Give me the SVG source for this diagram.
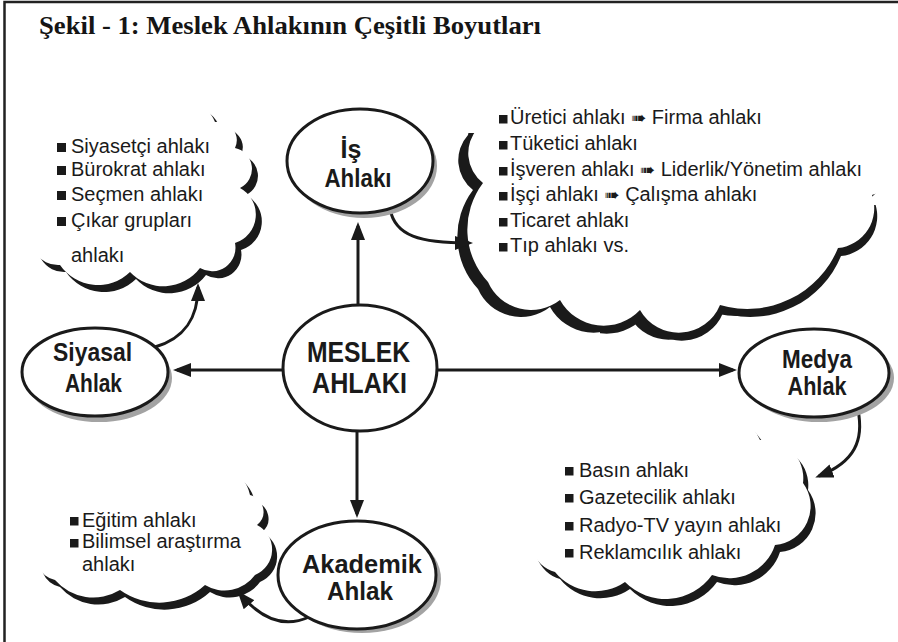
<svg xmlns="http://www.w3.org/2000/svg" width="898" height="642" viewBox="0 0 898 642">
<defs>
<style>
.title{font-family:"Liberation Serif","Times New Roman",serif;font-weight:bold;font-size:26px;fill:#151515}
.item{font-family:"Liberation Sans",Arial,sans-serif;font-size:20px;fill:#1a1a1a}
.arrg{font-family:"DejaVu Sans",sans-serif;font-size:18px}
.lbl{font-family:"Liberation Sans",Arial,sans-serif;font-weight:bold;font-size:25px;fill:#1a1a1a;text-anchor:middle}
.big{font-size:30px}
.node{fill:#fff;stroke:#1a1a1a;stroke-width:3}
.nsh{fill:#a3a3a3}
.edge{fill:none;stroke:#1a1a1a;stroke-width:3}
.sh{fill:#1a1a1a}
.wh{fill:#fff}
.bul{fill:#1a1a1a}
</style>
<marker id="ah" markerUnits="userSpaceOnUse" markerWidth="18" markerHeight="14" refX="14" refY="7" orient="auto" viewBox="0 0 18 14"><path d="M0,0 L18,7 L0,14 z" fill="#1a1a1a"/></marker>
<path id="cl1" d="M45,165 A33,33 0 0 1 85,122 A39,39 0 0 1 150,110 A39,39 0 0 1 215,122 A18.6,18.6 0 0 1 235,148 A21.3,21.3 0 0 1 240,188 A30,30 0 0 1 235,243 A23.5,23.5 0 0 1 200,268 A46,46 0 0 1 130,272 A46,46 0 0 1 60,265 A26.7,26.7 0 0 1 35,225 A38.5,38.5 0 0 1 45,165 Z"/>
<path id="cl2" d="M478,128 A45,45 0 0 1 540,95 A50,50 0 0 1 620,85 A50,50 0 0 1 700,82 A50,50 0 0 1 780,88 A45,45 0 0 1 850,105 A30,30 0 0 1 880,150 A25,25 0 0 1 872,195 A40,40 0 0 1 838,248 A98,98 0 0 1 720,305 A44.5,44.5 0 0 1 640,310 A50,50 0 0 1 560,300 A47,47 0 0 1 488,282 A77,77 0 0 1 483,183 A37.5,37.5 0 0 1 478,128 Z"/>
<path id="cl3" d="M540,478 A35,35 0 0 1 600,445 A45,45 0 0 1 680,435 A45,45 0 0 1 760,440 A38.5,38.5 0 0 1 803,483 A39,39 0 0 1 775,545 A48,48 0 0 1 712,575 A57,57 0 0 1 625,582 A52,52 0 0 1 555,572 A35,35 0 0 1 535,520 A30,30 0 0 1 540,478 Z"/>
<path id="cl4" d="M40,545 A32,32 0 0 1 60,495 A38,38 0 0 1 120,475 A42,42 0 0 1 190,472 A38,38 0 0 1 250,495 A17,17 0 0 1 257,525 A27.5,27.5 0 0 1 255,575 A37.5,37.5 0 0 1 205,585 A67.7,67.7 0 0 1 120,590 A51,51 0 0 1 55,580 A23,23 0 0 1 40,545 Z"/>
<clipPath id="clipR"><rect x="600" y="205" width="298" height="437"/></clipPath>
<clipPath id="clipB"><rect x="0" y="133" width="898" height="509"/></clipPath>
</defs>
<rect x="4.5" y="2" width="910" height="660" fill="none" stroke="#222" stroke-width="2.5"/>
<text class="title" x="39" y="34" textLength="502" lengthAdjust="spacingAndGlyphs">Şekil - 1: Meslek Ahlakının Çeşitli Boyutları</text>

<g id="cloud-siyasal">
<use href="#cl1" class="sh" transform="translate(6,7)"/>
<use href="#cl1" class="wh"/>
<rect class="bul" x="57" y="143" width="9" height="9"/><rect class="bul" x="57" y="166" width="9" height="9"/><rect class="bul" x="57" y="191" width="9" height="9"/><rect class="bul" x="57" y="217" width="9" height="9"/>
<text class="item" x="71" y="153">Siyasetçi ahlakı</text>
<text class="item" x="71" y="176">Bürokrat ahlakı</text>
<text class="item" x="71" y="201">Seçmen ahlakı</text>
<text class="item" x="71" y="227">Çıkar grupları</text>
<text class="item" x="71" y="262">ahlakı</text>
</g>

<g id="cloud-is">
<g clip-path="url(#clipB)"><use href="#cl2" class="sh" transform="translate(-10,7)"/></g>
<g clip-path="url(#clipR)"><use href="#cl2" class="sh" transform="translate(3,8)"/></g>
<use href="#cl2" class="wh"/>
<rect class="bul" x="499" y="115" width="8.5" height="8.5"/><rect class="bul" x="499" y="141" width="8.5" height="8.5"/><rect class="bul" x="499" y="167" width="8.5" height="8.5"/><rect class="bul" x="499" y="192" width="8.5" height="8.5"/><rect class="bul" x="499" y="218" width="8.5" height="8.5"/><rect class="bul" x="499" y="243" width="8.5" height="8.5"/>
<text class="item" x="510" y="124">Üretici ahlakı <tspan class="arrg">➠</tspan> Firma ahlakı</text>
<text class="item" x="510" y="150">Tüketici ahlakı</text>
<text class="item" x="510" y="176">İşveren ahlakı <tspan class="arrg">➠</tspan> Liderlik/Yönetim ahlakı</text>
<text class="item" x="510" y="201">İşçi ahlakı <tspan class="arrg">➠</tspan> Çalışma ahlakı</text>
<text class="item" x="510" y="227">Ticaret ahlakı</text>
<text class="item" x="510" y="252">Tıp ahlakı vs.</text>
</g>

<g id="cloud-medya">
<use href="#cl3" class="sh" transform="translate(5,7)"/>
<use href="#cl3" class="wh"/>
<rect class="bul" x="565" y="467" width="8.5" height="8.5"/><rect class="bul" x="565" y="494" width="8.5" height="8.5"/><rect class="bul" x="565" y="522" width="8.5" height="8.5"/><rect class="bul" x="565" y="549" width="8.5" height="8.5"/>
<text class="item" x="579" y="477">Basın ahlakı</text>
<text class="item" x="579" y="504">Gazetecilik ahlakı</text>
<text class="item" x="579" y="532">Radyo-TV yayın ahlakı</text>
<text class="item" x="579" y="559">Reklamcılık ahlakı</text>
</g>

<g id="cloud-akademik">
<use href="#cl4" class="sh" transform="translate(5,7)"/>
<use href="#cl4" class="wh"/>
<rect class="bul" x="70" y="517" width="8.5" height="8.5"/><rect class="bul" x="70" y="539" width="8.5" height="8.5"/>
<text class="item" x="82" y="527">Eğitim ahlakı</text>
<text class="item" x="82" y="548">Bilimsel araştırma</text>
<text class="item" x="82" y="571">ahlakı</text>
</g>

<g id="connectors">
<path class="edge" d="M358,305 L358,226" marker-end="url(#ah)"/>
<path class="edge" d="M357,432 L357,514" marker-end="url(#ah)"/>
<path class="edge" d="M283,370 L177,370" marker-end="url(#ah)"/>
<path class="edge" d="M437,370 L733,370" marker-end="url(#ah)"/>
<path class="edge" d="M390,209 C395,236 420,243 469,243" marker-end="url(#ah)"/>
<path class="edge" d="M155,347 C185,338 198,318 198,287" marker-end="url(#ah)"/>
<path class="edge" d="M858,410 C864,440 855,462 819,476" marker-end="url(#ah)"/>
<path class="edge" d="M309,617 C285,628 262,620 240,594" marker-end="url(#ah)"/>
</g>

<g id="node-is">
<ellipse class="nsh" cx="364" cy="166" rx="73" ry="52"/>
<ellipse class="node" cx="360" cy="161" rx="73" ry="52"/>
<text class="lbl" x="351" y="158">İş</text>
<text class="lbl" x="358" y="187" textLength="67" lengthAdjust="spacingAndGlyphs">Ahlakı</text>
</g>
<g id="node-meslek">
<ellipse class="node" cx="360" cy="368" rx="77" ry="63"/>
<text class="lbl big" x="358.5" y="362" textLength="103" lengthAdjust="spacingAndGlyphs">MESLEK</text>
<text class="lbl big" x="359.5" y="393" textLength="95" lengthAdjust="spacingAndGlyphs">AHLAKI</text>
</g>
<g id="node-siyasal">
<ellipse class="nsh" cx="99" cy="378" rx="73" ry="44"/>
<ellipse class="node" cx="95" cy="372" rx="73" ry="44"/>
<text class="lbl" x="92.5" y="361" textLength="79" lengthAdjust="spacingAndGlyphs">Siyasal</text>
<text class="lbl" x="93.5" y="392" textLength="57" lengthAdjust="spacingAndGlyphs">Ahlak</text>
</g>
<g id="node-medya">
<ellipse class="nsh" cx="819" cy="378" rx="75" ry="44"/>
<ellipse class="node" cx="814" cy="373" rx="75" ry="44"/>
<text class="lbl" x="817" y="368" textLength="70" lengthAdjust="spacingAndGlyphs">Medya</text>
<text class="lbl" x="817" y="395" textLength="59" lengthAdjust="spacingAndGlyphs">Ahlak</text>
</g>
<g id="node-akademik">
<ellipse class="nsh" cx="362" cy="579" rx="79" ry="54"/>
<ellipse class="node" cx="357" cy="575" rx="79" ry="54"/>
<text class="lbl" x="362" y="573" textLength="120" lengthAdjust="spacingAndGlyphs">Akademik</text>
<text class="lbl" x="360" y="600" textLength="66" lengthAdjust="spacingAndGlyphs">Ahlak</text>
</g>
</svg>
